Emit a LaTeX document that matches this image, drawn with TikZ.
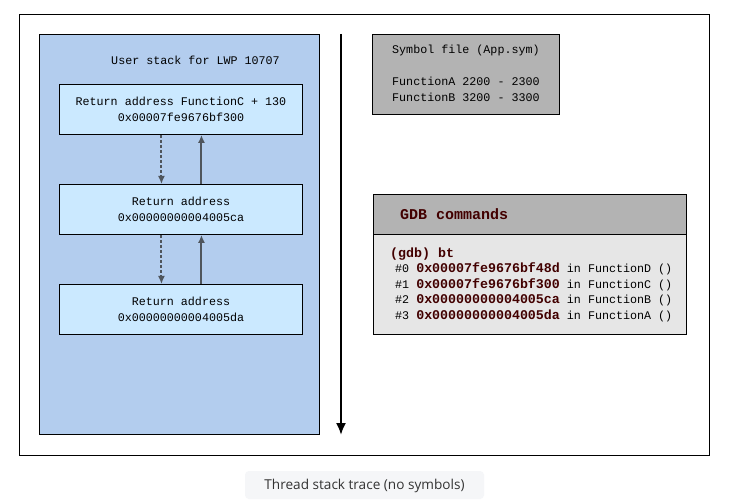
\documentclass[tikz,border=0pt]{standalone}
\usepackage{fontspec}
\setmonofont{Liberation Mono}
\newfontfamily\capfont{Open Sans}
\usetikzlibrary{arrows.meta}
\definecolor{stackblue}{HTML}{B3CDEE}
\definecolor{boxcyan}{HTML}{CBE9FF}
\definecolor{symgray}{HTML}{B3B3B3}
\definecolor{bodygray}{HTML}{E6E6E6}
\definecolor{darkred}{HTML}{420000}
\definecolor{arrowgray}{HTML}{4F555C}
\definecolor{capbg}{HTML}{F5F6F8}
\definecolor{captext}{HTML}{333333}
\newcommand{\mtext}{\ttfamily\fontsize{11.7}{16}\selectfont}
\newcommand{\btext}[1]{{\color{darkred}\bfseries\fontsize{13.3}{16}\selectfont #1}}
\tikzset{
  box/.style={draw=black, line width=0.9pt, anchor=north west, inner sep=0pt},
  framebox/.style={box, line width=1.1pt},
  stackbox/.style={box, fill=stackblue},
  retbox/.style={box, fill=boxcyan, minimum width=243pt, minimum height=50pt},
  graybox/.style={box, fill=symgray},
  bodybox/.style={box, fill=bodygray},
  label/.style={font=\mtext, text=black, inner sep=0pt},
  lbl/.style={label, anchor=west},
  uparrow/.style={draw=arrowgray, line width=2pt, -{Latex[length=8pt,width=7pt]}},
  dnarrow/.style={uparrow, dash pattern=on 3pt off 2pt},
  timearrow/.style={draw=black, line width=2pt, -{Latex[length=12pt,width=10pt]}},
}
\begin{document}
\begin{tikzpicture}[x=1pt,y=-1pt]
\useasboundingbox (0,0) rectangle (733,502);
\fill[white] (0,0) rectangle (733,502);
\node[framebox, minimum width=690pt, minimum height=441pt] (frame) at (19,14) {};
\node[stackbox, minimum width=280pt, minimum height=400pt] (stack) at (39,34) {};
\node[label] (title) at (195.5,60) {User stack for LWP 10707};
\node[retbox] (box1) at (59,84) {};
\node[retbox] (box2) at (59,184) {};
\node[retbox] (box3) at (59,284) {};
\node[label, align=center] (t1) at (box1.center) {Return address FunctionC + 130\\0x00007fe9676bf300};
\node[label, align=center] (t2) at (box2.center) {Return address\\0x00000000004005ca};
\node[label, align=center] (t3) at (box3.center) {Return address\\0x00000000004005da};
\draw[dnarrow] ([xshift=-19.5pt]box1.south) -- ([xshift=-19.5pt]box2.north);
\draw[dnarrow] ([xshift=-19.5pt]box2.south) -- ([xshift=-19.5pt]box3.north);
\draw[uparrow] ([xshift=20.5pt]box2.north) -- ([xshift=20.5pt]box1.south);
\draw[uparrow] ([xshift=20.5pt]box3.north) -- ([xshift=20.5pt]box2.south);
\coordinate (vtop) at (341,34);
\coordinate (vbot) at (341,435);
\draw[timearrow] (vtop) -- (vbot);
\node[graybox, minimum width=187pt, minimum height=80pt] (sym) at (372,34) {};
\node[lbl] (s1) at (392,50) {Symbol file (App.sym)};
\node[lbl] (s2) at (392,81) {FunctionA 2200 - 2300};
\node[lbl] (s3) at (392,97) {FunctionB 3200 - 3300};
\node[bodybox, minimum width=313pt, minimum height=100pt] (gdbbody) at (373,234) {};
\node[graybox, minimum width=313pt, minimum height=40pt] (gdbhead) at (373,194) {};
\node[lbl, font=\ttfamily\bfseries\fontsize{15}{18}\selectfont, text=darkred] (gh) at (400,214) {GDB commands};
\node[lbl] (g0) at (390,254) {\btext{(gdb) bt}};
\node[lbl] (g1) at (395,269) {\#0 \btext{0x00007fe9676bf48d} in FunctionD ()};
\node[lbl] (g2) at (395,284.5) {\#1 \btext{0x00007fe9676bf300} in FunctionC ()};
\node[lbl] (g3) at (395,300) {\#2 \btext{0x00000000004005ca} in FunctionB ()};
\node[lbl] (g4) at (395,315.5) {\#3 \btext{0x00000000004005da} in FunctionA ()};
\fill[capbg, rounded corners=4pt] (245,471) rectangle (484,499);
\node[font=\capfont\fontsize{13.6}{15}\selectfont, text=captext, inner sep=0pt] (cap) at (364.5,485.5) {Thread stack trace (no symbols)};
\end{tikzpicture}
\end{document}
